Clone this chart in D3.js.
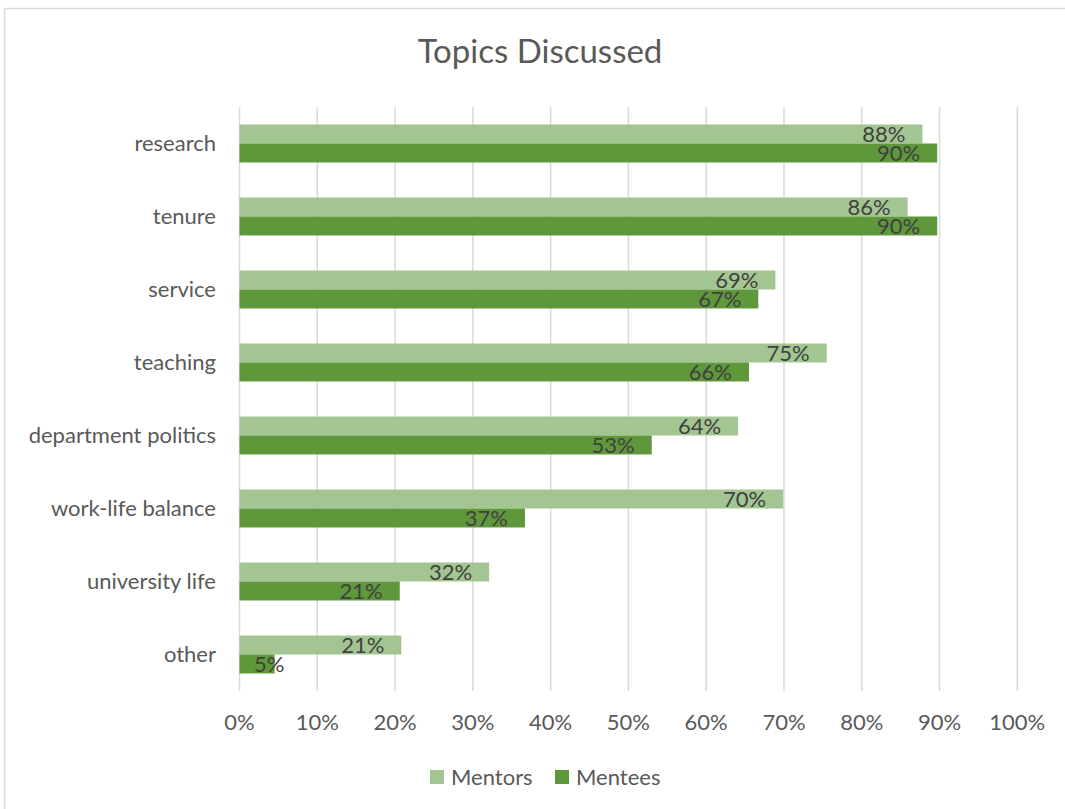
<!DOCTYPE html>
<html>
<head>
<meta charset="utf-8">
<script src="https://cdn.jsdelivr.net/npm/d3@7"></script>
<style>
  body { margin: 0; background: #fff; }
  svg text { font-family: Lato, "Open Sans", sans-serif; }
</style>
</head>
<body>
<div id="chart"></div>
<script>
"use strict";

const categories = ["research", "tenure", "service", "teaching", "department politics",
  "work-life balance", "university life", "other"];
const mentors = [87.8, 85.9, 68.9, 75.5, 64.1, 69.9, 32.1, 20.8];
const mentees = [89.7, 89.7, 66.7, 65.5, 53.0, 36.7, 20.6, 4.5];
const mentorLabels = ["88%", "86%", "69%", "75%", "64%", "70%", "32%", "21%"];
const menteeLabels = ["90%", "90%", "67%", "66%", "53%", "37%", "21%", "5%"];
const xTicks = [0, 10, 20, 30, 40, 50, 60, 70, 80, 90, 100];
const seriesNames = ["Mentors", "Mentees"];
const seriesColors = ["#a3c591", "#5f973b"];

const width = 1065, height = 809;
const plotLeft = 239.5, plotRight = 1017.3, plotTop = 107, plotBottom = 691;

const svg = d3.select("#chart").append("svg")
    .attr("width", width)
    .attr("height", height);

// chart border
svg.append("rect")
    .attr("x", 4.5).attr("y", 8.5)
    .attr("width", width + 10).attr("height", height + 10)
    .style("fill", "#fff")
    .style("stroke", "#d9d9d9")
    .style("stroke-width", 1.5);

const x = d3.scaleLinear().domain([0, 100]).range([plotLeft, plotRight]);
const y = d3.scaleBand().domain(categories).range([plotTop, plotBottom]).paddingInner(0.48).paddingOuter(0.24);
const sub = d3.scaleBand().domain(seriesNames).range([0, y.bandwidth()]);

// gridlines
svg.selectAll(".grid")
    .data(xTicks)
    .enter().append("line")
    .attr("class", "grid")
    .attr("x1", d => x(d)).attr("x2", d => x(d))
    .attr("y1", plotTop).attr("y2", plotBottom)
    .style("stroke", "#d9d9d9")
    .style("stroke-width", 1.5);

// tick labels
svg.selectAll(".xlab")
    .data(xTicks)
    .enter().append("text")
    .attr("x", d => x(d))
    .attr("y", 730)
    .text(d => d + "%")
    .style("text-anchor", "middle")
    .style("font-size", "22px")
    .style("fill", "#595959");

// category labels
svg.selectAll(".ylab")
    .data(categories)
    .enter().append("text")
    .attr("x", 216)
    .attr("y", d => y(d) + y.bandwidth() / 2)
    .attr("dy", "0.35em")
    .text(d => d)
    .style("text-anchor", "end")
    .style("font-size", "22px")
    .style("fill", "#595959");

const series = [
  {name: "Mentors", values: mentors, labels: mentorLabels, color: seriesColors[0]},
  {name: "Mentees", values: mentees, labels: menteeLabels, color: seriesColors[1]}
];

series.forEach(function(s) {
  const rows = categories.map((c, i) => ({cat: c, value: s.values[i], label: s.labels[i]}));

  svg.selectAll(".bar-" + s.name)
      .data(rows)
      .enter().append("rect")
      .attr("x", x(0))
      .attr("y", d => y(d.cat) + sub(s.name))
      .attr("width", d => x(d.value) - x(0))
      .attr("height", sub.bandwidth())
      .style("fill", s.color);

  svg.selectAll(".val-" + s.name)
      .data(rows)
      .enter().append("text")
      .attr("x", d => Math.max(x(d.value) - 17, x(0) + 45))
      .attr("y", d => y(d.cat) + sub(s.name) + sub.bandwidth() / 2)
      .attr("dy", "0.36em")
      .text(d => d.label)
      .style("text-anchor", "end")
      .style("font-size", "22px")
      .style("fill", "#404040");
});

// title
svg.append("text")
    .attr("x", 540)
    .attr("y", 63)
    .text("Topics Discussed")
    .style("text-anchor", "middle")
    .style("font-size", "33px")
    .style("fill", "#595959");

// legend
const legendX = [430, 555];
seriesNames.forEach(function(name, i) {
  svg.append("rect")
      .attr("x", legendX[i]).attr("y", 770)
      .attr("width", 14).attr("height", 14)
      .style("fill", seriesColors[i]);
  svg.append("text")
      .attr("x", legendX[i] + 21).attr("y", 777)
      .attr("dy", "0.36em")
      .text(name)
      .style("font-size", "22px")
      .style("fill", "#595959");
});
</script>
</body>
</html>
